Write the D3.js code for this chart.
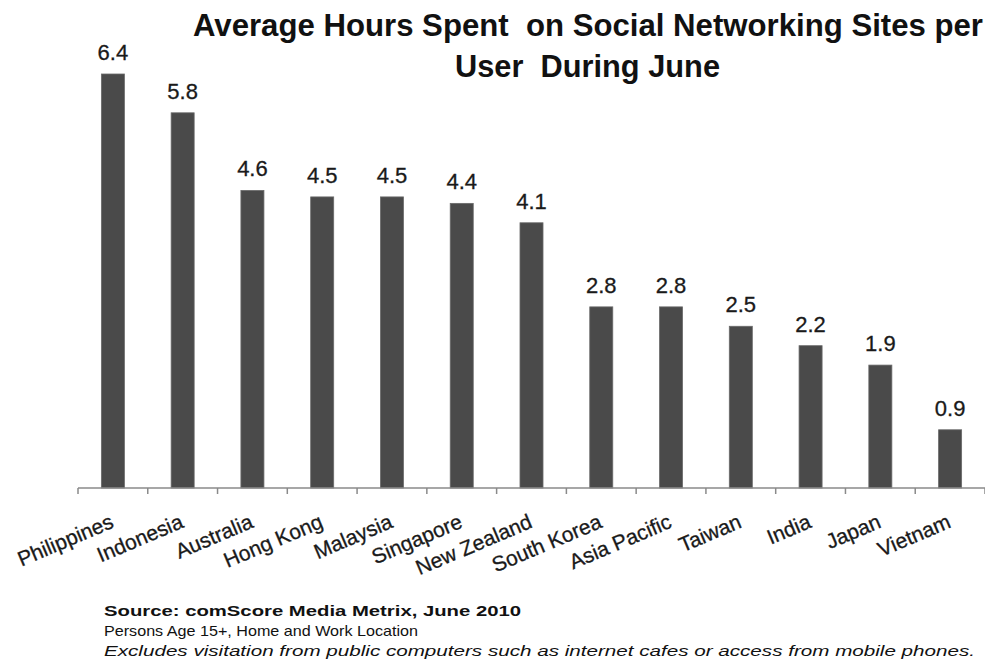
<!DOCTYPE html>
<html>
<head>
<meta charset="utf-8">
<script src="https://cdn.jsdelivr.net/npm/d3@7"></script>
<style>
  body { margin: 0; background: #fff; }
  svg { display: block; font-family: "Liberation Sans", Arial, sans-serif; }
</style>
</head>
<body>
<div id="chart"></div>
<script>
// datos
const countries = ["Philippines", "Indonesia", "Australia", "Hong Kong", "Malaysia", "Singapore",
  "New Zealand", "South Korea", "Asia Pacific", "Taiwan", "India", "Japan", "Vietnam"]
const hours = [6.4, 5.8, 4.6, 4.5, 4.5, 4.4, 4.1, 2.8, 2.8, 2.5, 2.2, 1.9, 0.9]
const titleLines = ["Average Hours Spent  on Social Networking Sites per", "User  During June"]
const notes = [
  "Source: comScore Media Metrix, June 2010",
  "Persons Age 15+, Home and Work Location",
  "Excludes visitation from public computers such as internet cafes or access from mobile phones."
]

const width = 985, height = 666
const data = countries.map((c, i) => ({ name: c, value: hours[i] }))

const svg = d3.select("#chart")
  .append("svg")
  .attr("width", width)
  .attr("height", height)

const x = d3.scaleBand()
  .domain(countries)
  .range([78, 985])
  .paddingInner(0.67)
  .paddingOuter(0.335)

const y = d3.scaleLinear()
  .domain([0, 6.4])
  .range([488, 74])

// titulo
const titleG = svg.append("g")
titleG.append("text")
  .attr("x", 193).attr("y", 36)
  .attr("textLength", 790).attr("lengthAdjust", "spacingAndGlyphs")
  .style("font-size", "31px").style("font-weight", "bold").attr("fill", "#111")
  .style("white-space", "pre")
  .text(titleLines[0])
titleG.append("text")
  .attr("x", 455).attr("y", 77)
  .attr("textLength", 265).attr("lengthAdjust", "spacingAndGlyphs")
  .style("font-size", "31px").style("font-weight", "bold").attr("fill", "#111")
  .style("white-space", "pre")
  .text(titleLines[1])

// barras
svg.selectAll("rect.bar")
  .data(data)
  .join("rect")
  .attr("class", "bar")
  .attr("x", d => x(d.name))
  .attr("y", d => y(d.value))
  .attr("width", x.bandwidth())
  .attr("height", d => y(0) - y(d.value))
  .attr("fill", "#4a4a4a")
  .attr("stroke", "#6a6a6a")
  .attr("stroke-width", 0.8)

// etiquetas de valor
svg.selectAll("text.val")
  .data(data)
  .join("text")
  .attr("class", "val")
  .attr("x", d => x(d.name) + x.bandwidth() / 2)
  .attr("y", d => y(d.value) - 14)
  .attr("text-anchor", "middle")
  .style("font-size", "22px")
  .attr("fill", "#1a1a1a")
  .attr("stroke", "#1a1a1a")
  .attr("stroke-width", 0.3)
  .text(d => d3.format(".1f")(d.value))

// eje
const half = (x.step() - x.bandwidth()) / 2
const tickXs = countries.map(c => x(c) - half).concat([x(countries[countries.length - 1]) + x.bandwidth() + half])
const axisG = svg.append("g")
axisG.append("line")
  .attr("x1", 78).attr("x2", 985)
  .attr("y1", y(0)).attr("y2", y(0))
  .attr("stroke", "#8a8a8a").attr("stroke-width", 1.5)
axisG.selectAll("line.tick")
  .data(tickXs)
  .join("line")
  .attr("class", "tick")
  .attr("x1", d => d).attr("x2", d => d)
  .attr("y1", y(0)).attr("y2", y(0) + 6)
  .attr("stroke", "#8a8a8a").attr("stroke-width", 1.5)

// etiquetas de paises
svg.selectAll("text.cat")
  .data(countries)
  .join("text")
  .attr("class", "cat")
  .attr("text-anchor", "end")
  .attr("transform", d => `translate(${x(d) + x.bandwidth() / 2 + 2},${y(0) + 39}) rotate(-23)`)
  .style("font-size", "21px")
  .attr("fill", "#1a1a1a")
  .attr("stroke", "#1a1a1a")
  .attr("stroke-width", 0.3)
  .text(d => d)

// notas
const noteY = [616, 636, 656]
const noteW = [417, 314, 871]
svg.selectAll("text.note")
  .data(notes)
  .join("text")
  .attr("class", "note")
  .attr("x", 104)
  .attr("y", (d, i) => noteY[i])
  .attr("textLength", (d, i) => noteW[i])
  .attr("lengthAdjust", "spacingAndGlyphs")
  .style("font-size", "15px")
  .style("font-weight", (d, i) => i === 0 ? "bold" : "normal")
  .style("font-style", (d, i) => i === 2 ? "italic" : "normal")
  .attr("fill", "#111")
  .text(d => d)
</script>
</body>
</html>
